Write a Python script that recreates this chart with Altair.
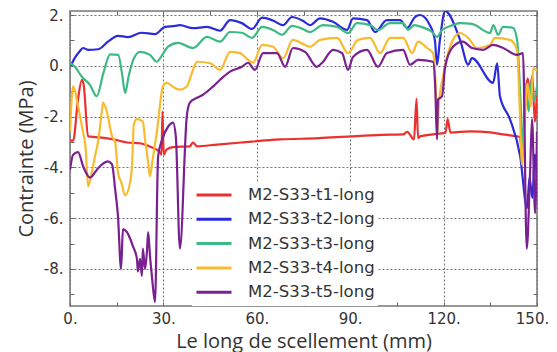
import altair as alt
import pandas as pd

series_names = ["M2-S33-t1-long", "M2-S33-t2-long", "M2-S33-t3-long",
                "M2-S33-t4-long", "M2-S33-t5-long"]
colors = ["#ec2f2f", "#2b2bdc", "#3dba84", "#f9bb2d", "#7a2090"]

t1_x = [0, 1, 2.6, 3.8, 4.4, 5.8, 9.6, 14, 18.3, 22.5, 26, 28.9, 29.4, 29.7, 30.1, 31, 33.1, 38.5, 39.5,
        40.8, 47.2, 55, 67.5, 80, 90, 100, 107, 108.3, 110.5, 111.3, 111.8, 112.4, 116.6, 120.6, 121.3,
        122.2, 128.5, 135, 139.1, 143.6, 144.5, 145.3, 146.2, 147, 147.7, 148.5, 149.3, 150]
t1_y = [-2.95, -2.95, -1.3, -0.55, -0.75, -2.78, -2.82, -2.9, -3.02, -3.05, -3.2, -3.4, -3.5, -1.8, -3.5,
        -3.3, -3.2, -3.17, -3.02, -3.17, -3.1, -3.02, -2.9, -2.85, -2.78, -2.72, -2.7, -2.6, -2.9, -1.3,
        -2.85, -2.78, -2.7, -2.63, -2.1, -2.63, -2.58, -2.62, -2.7, -2.78, -2.8, -3.6, -1.3, -0.5, -1.0,
        -0.4, -2.2, -1.0]

t2_x = [0.3, 1.5, 3, 4.2, 5.8, 9, 12.2, 15.4, 18.6, 23, 27.3, 30.5, 33.7, 35.3, 39.5, 44, 48.2, 51.4,
        55.2, 58.5, 61.7, 65.2, 68.4, 71.3, 74.8, 77.1, 80.3, 84.5, 89, 90.9, 95.4, 98, 101.8, 106, 108.3,
        110.8, 112.4, 115.6, 117.2, 117.9, 118.8, 120.5, 125.3, 127.9, 129.1, 135.9, 137.2, 138.1, 141.3,
        144.6, 146.8, 147.6, 148.5, 149.3, 150]
t2_y = [0.0, 0.3, 0.55, 0.7, 0.63, 0.65, 0.95, 1.18, 1.13, 1.3, 1.25, 1.53, 1.57, 1.6, 1.48, 1.53, 1.38,
        1.8, 1.68, 1.45, 1.9, 1.78, 1.6, 1.92, 1.77, 1.6, 1.87, 1.73, 1.41, 1.87, 1.8, 1.33, 1.8, 1.8,
        1.49, 1.92, 2.0, 1.6, 1.0, 0.04, 1.0, 2.15, 1.02, 0.04, 0.3, -0.67, 0.1, -1.2, -2.1, -3.56, -5.6,
        -4.4, -5.2, -3.5, -4.5]

t3_x = [0, 1.6, 3.8, 6.4, 8.6, 10.7, 12.9, 15.5, 16.7, 17.7, 18.8, 20.3, 22.5, 25.7, 27.8, 30, 31.5,
        34.7, 39.5, 44, 48.2, 51.4, 55.2, 58.5, 61.7, 65.2, 68.1, 71.3, 74.8, 77, 81.3, 85.8, 89.3, 92.2,
        96.4, 98.9, 102.8, 107, 108.6, 110.5, 112.4, 116.3, 117.9, 119.5, 123, 125.3, 129.1, 134.9, 136,
        137.5, 139.1, 142.3, 143.6, 144.6, 145.5, 146.4, 147.3, 148.2, 149, 150]
t3_y = [0.1, -0.04, -0.43, -0.75, -1.2, -0.3, 0.45, 0.43, -0.3, -1.07, -0.43, 0.23, 0.55, 0.43, 0.16,
        0.5, 0.75, 0.9, 0.7, 1.14, 0.95, 1.33, 1.3, 1.1, 1.53, 1.41, 1.22, 1.57, 1.45, 1.33, 1.6, 1.53,
        1.29, 1.68, 1.6, 1.41, 1.68, 1.68, 1.41, 1.6, 1.55, 1.33, 1.14, 1.41, 1.6, 1.68, 1.65, 1.29, 1.6,
        1.22, 1.53, 1.49, 1.02, -1.07, -3.2, -0.7, -1.8, -0.6, -1.4, -0.8]

t4_x = [0, 1, 2.6, 4.2, 5.0, 5.8, 7, 8, 9, 10.3, 10.6, 11.9, 13.5, 14.5, 15.4, 16.5, 17.7, 19.3, 19.9,
        20.5, 21.5, 23.4, 24.1, 25.1, 25.7, 26.3, 27.9, 29.9, 31, 33.7, 35.3, 37.5, 39.5, 40.8, 45, 48.2,
        51.4, 54.6, 57.2, 58.8, 61.7, 65.2, 68.4, 71.6, 75.5, 77.1, 80.3, 85.8, 89.3, 92.5, 96.4, 99.6,
        102.8, 107, 109.9, 111.8, 114.7, 116.6, 117.5, 117.9, 118.5, 119.8, 123, 125.3, 127.9, 130.7,
        134.9, 136.5, 141.3, 143.6, 144.4, 145.2, 146, 147, 148, 148.8, 150]
t4_y = [-2.6, -0.8, -1.6, -2.63, -3.2, -4.74, -4.2, -3.57, -3.0, -1.73, -1.45, -1.84, -2.78, -3.0, -4.2,
        -4.6, -5.1, -4.6, -3.95, -2.3, -2.1, -2.2, -2.9, -3.8, -4.35, -3.9, -2.6, -0.8, -0.67, -0.87,
        -0.94, -0.82, -0.16, 0.16, 0.1, -0.16, 0.55, 0.5, 0.23, 0.12, 0.82, 0.75, 0.3, 1.02, 0.82, 0.75,
        1.02, 1.1, 0.5, 1.02, 1.1, 0.5, 1.1, 1.1, 0.5, 0.95, 0.7, 0.5, -1.0, -2.8, -1.5, -0.43, 1.02,
        1.29, 1.1, 0.7, 0.82, 1.1, 1.02, 0.63, -1.5, -3.9, -2.3, -0.7, -1.6, -0.1, -0.2]

t5_x = [0, 1, 2.6, 4.2, 6.4, 8.7, 10.3, 12.2, 13.5, 14.5, 15.4, 16.4, 17, 18.3, 19.3, 20.2, 21.5, 21.8,
        22.5, 23.1, 23.4, 24.1, 24.7, 25.1, 25.7, 26.3, 27.3, 28.3, 29.6, 31.5, 33.1, 34.0, 35.3, 37.5,
        38.5, 40.8, 42.7, 45.9, 48.2, 51.4, 55.2, 57.2, 59.4, 62, 66.5, 69.1, 71.6, 75.5, 79.3, 81, 84.5,
        87.4, 89.3, 90.9, 95.4, 98.9, 101.8, 107, 109.2, 111.8, 116.6, 117.3, 117.9, 118.2, 119.5, 120.5,
        123, 126.2, 129.1, 132.7, 135.9, 139.1, 143.6, 145.5, 146.7, 147.8, 148.4, 149.4, 150]
t5_y = [-4.1, -3.5, -3.4, -3.95, -4.4, -4.08, -3.88, -3.76, -3.88, -4.86, -5.9, -8.0, -6.43, -6.55,
        -6.8, -7.1, -7.6, -8.1, -7.6, -8.27, -7.2, -8.0, -7.33, -6.55, -7.5, -8.27, -9.3, -3.57, -2.9,
        -2.4, -2.24, -2.8, -7.2, -2.0, -1.45, -1.26, -1.14, -0.82, -0.55, -0.23, -0.04, 0.12, -0.16, 0.5,
        0.5, -0.04, 0.7, 0.55, -0.04, 0.12, 0.63, 0.5, -0.16, 0.35, 0.63, -0.04, 0.5, 0.63, 0.04, 0.23,
        0.16, -0.8, -2.9, -1.33, -1.2, -0.04, 0.75, 0.95, 0.7, 0.63, 0.82, 0.7, 0.43, 0.5, -7.2, -4.1,
        -2.1, -5.8, -2.6]

x_major = [0, 30, 60, 90, 120, 150]
x_minor = [0, 15, 30, 45, 60, 75, 90, 105, 120, 135, 150]
y_major = [-8, -6, -4, -2, 0, 2]
y_minor = [-9, -8, -7, -6, -5, -4, -3, -2, -1, 0, 1, 2]

rows = []
for name, xs, ys in zip(series_names, [t1_x, t2_x, t3_x, t4_x, t5_x], [t1_y, t2_y, t3_y, t4_y, t5_y]):
    for i, (a, b) in enumerate(zip(xs, ys)):
        rows.append({"series": name, "x": a, "y": b, "i": i})
df = pd.DataFrame(rows)

W, H = 467, 295
xscale = alt.Scale(domain=[0, 150], nice=False, zero=False)
yscale = alt.Scale(domain=[-9.457, 2.157], nice=False, zero=False)

lines = alt.Chart(df).mark_line(strokeWidth=2.2, interpolate="monotone", clip=True).encode(
    x=alt.X("x:Q", scale=xscale, axis=alt.Axis(
        values=x_major, labelExpr="datum.value + '.'", title="Le long de scellement (mm)",
        grid=True, gridDash=[2, 2], gridColor="#777", gridWidth=1, domain=False, ticks=False,
        labelPadding=5, labelFlush=False, titlePadding=5,
        labelOffset={"condition": {"test": "datum.value == 150", "value": -5}, "value": 0})),
    y=alt.Y("y:Q", scale=yscale, axis=alt.Axis(
        values=y_major, labelExpr="datum.value + '.'", title="Contrainte (MPa)",
        grid=True, gridDash=[2, 2], gridColor="#777", gridWidth=1, domain=False, ticks=False,
        labelPadding=7, labelFlush=False, titlePadding=7,
        labelOffset={"condition": {"test": "datum.value == 2", "value": 1}, "value": 0})),
    color=alt.Color("series:N", scale=alt.Scale(domain=series_names, range=colors),
                    legend=alt.Legend(title=None, orient="none", legendX=122, legendY=171,
                                      direction="vertical", symbolType="stroke", symbolSize=1225,
                                      symbolStrokeWidth=3, labelFont="DejaVu Sans", labelFontSize=16.5,
                                      labelColor="#333", fillColor="white", padding=3,
                                      rowPadding=4.3, clipHeight=20, labelOffset=15)),
    order="i:Q",
)

tick_style = dict(labels=False, domain=False, grid=False, tickSize=4, tickColor="#666",
                  tickWidth=1, title=None)

ticks_a = alt.Chart(df).mark_point(opacity=0).encode(
    x=alt.X("x:Q", scale=xscale, axis=alt.Axis(orient="top", offset=-H, values=x_minor, **tick_style)),
    y=alt.Y("y:Q", scale=yscale, axis=alt.Axis(orient="right", offset=-W, values=y_minor, **tick_style)),
)
ticks_b = alt.Chart(df).mark_point(opacity=0).encode(
    x=alt.X("x:Q", scale=xscale, axis=alt.Axis(orient="bottom", offset=-H, values=x_minor, **tick_style)),
    y=alt.Y("y:Q", scale=yscale, axis=alt.Axis(orient="left", offset=-W, values=y_minor, **tick_style)),
)

chart = alt.layer(lines, ticks_a, ticks_b).resolve_axis(
    x="independent", y="independent"
).properties(
    width=W, height=H, autosize="none",
    padding={"left": 62, "top": 3, "right": 12, "bottom": 46},
).configure_view(
    stroke="#777", strokeWidth=1.5
).configure_axis(
    labelFont="DejaVu Sans", labelFontSize=15, labelColor="#333",
    titleFont="Open Sans", titleFontSize=20, titleFontWeight="normal", titleColor="#333",
)

chart.save("out.html", embed_options={"renderer": "svg", "actions": False})
